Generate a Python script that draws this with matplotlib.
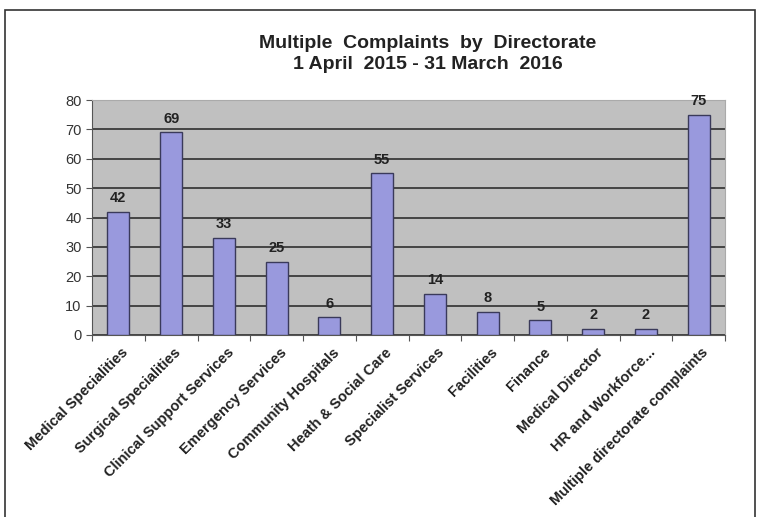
import matplotlib
matplotlib.use("Agg")
import matplotlib.pyplot as plt
from matplotlib.patches import Rectangle

categories = ["Medical Specialities", "Surgical Specialities", "Clinical Support Services",
              "Emergency Services", "Community Hospitals", "Heath & Social Care",
              "Specialist Services", "Facilities", "Finance", "Medical Director",
              "HR and Workforce...", "Multiple directorate complaints"]
values = [42, 69, 33, 25, 6, 55, 14, 8, 5, 2, 2, 75]
yticks = [0, 10, 20, 30, 40, 50, 60, 70, 80]
title = "Multiple  Complaints  by  Directorate\n1 April  2015 - 31 March  2016"

plt.rcParams['font.family'] = ['Liberation Sans', 'DejaVu Sans']

fig = plt.figure(figsize=(7.6, 5.17), dpi=100)
fig.patches.append(Rectangle((5/760, -0.05), 750/760, 1.05 - 10/517, transform=fig.transFigure,
                             fill=False, edgecolor='#333333', linewidth=1.2))
ax = fig.add_axes([92/760, 1 - 335/517, 633/760, 235/517])
ax.set_facecolor('#c0c0c0')
x = list(range(len(categories)))
ax.bar(x, values, width=0.42, color='#9999dd', edgecolor='#3a3a5a', linewidth=1.0, zorder=3)
for xi, v in zip(x, values):
    ax.text(xi, v + 2.3, str(v), ha='center', va='bottom', fontsize=10.5, fontweight='bold', color='#222222')
ax.set_ylim(0, 80)
ax.set_xlim(-0.5, len(categories) - 0.5)
ax.set_yticks(yticks)
ax.set_yticklabels([str(t) for t in yticks], fontsize=10.5, color='#333333')
ax.yaxis.grid(True, color='#3a3a3a', linewidth=1.3, zorder=1)
ax.set_axisbelow(True)
ax.set_xticks([i - 0.5 for i in range(len(categories) + 1)])
ax.set_xticklabels([])
ax.tick_params(axis='x', length=4, color='#555555')
ax.tick_params(axis='y', length=4, color='#555555')
for xi, c in zip(x, categories):
    ax.text(xi + 0.05, -3.5, c, rotation=45, rotation_mode='anchor', ha='right', va='top',
            fontsize=10.5, fontweight='bold', color='#222222', transform=ax.transData)
for s in ['top', 'right']:
    ax.spines[s].set_color('#aaaaaa')
ax.spines['left'].set_color('#555555')
ax.spines['bottom'].set_color('#555555')
fig.text(428/760, 1 - 54/517, title, ha='center', va='center', fontsize=14,
         fontweight='bold', color='#222222', linespacing=1.35)
fig.savefig("out.png", dpi=100)
